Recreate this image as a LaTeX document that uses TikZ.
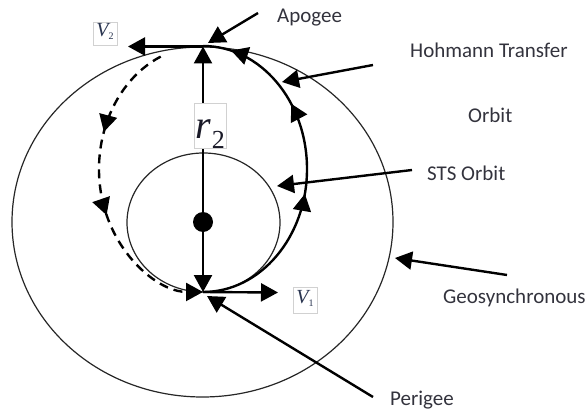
\documentclass[tikz,border=0pt]{standalone}
\usepackage{fontspec}
\usepackage{graphicx}
\setmainfont{Carlito}
\newfontfamily\tnr{Liberation Serif}
\usetikzlibrary{arrows.meta,decorations.markings}
\definecolor{txt}{HTML}{33333D}
\definecolor{lbl}{HTML}{2A3550}
\definecolor{rlbl}{HTML}{1A1A28}
\begin{document}
\begin{tikzpicture}[x=1pt,y=-1pt,
  orbitline/.style={line width=1.2pt, draw=black!85},
  ptr/.style={line width=2.4pt, -{Triangle[length=17pt,width=18pt]}},
  lab/.style={font=\fontsize{21}{21}\selectfont, text=txt, inner sep=0pt, anchor=base west},
  vbox/.style={draw=black!18, line width=0.6pt, fill=white, inner sep=0pt, text=lbl, anchor=base}]
\useasboundingbox (0,0) rectangle (588,409);
% orbits
\draw[orbitline] (202.5,222) ellipse [x radius=190.5, y radius=175];
\draw[orbitline] (203.5,222.5) ellipse [x radius=76.5, y radius=69.5];
\coordinate (C) at (203,222);
\coordinate (apo) at (203,46.5);
\coordinate (peri) at (203,292);
\coordinate (v2end) at (128,46.5);
\coordinate (v1end) at (278,292.5);
\coordinate (dashS) at (160.7,56.6);
% transfer orbit
\draw[line width=2.4pt, postaction={decorate}, decoration={markings,
    mark=at position 0.43 with {\arrow{Triangle[length=17pt,width=18pt]}},
    mark=at position 0.69 with {\arrow{Triangle[length=17pt,width=18pt]}},
    mark=at position 0.92 with {\arrow{Triangle[length=17pt,width=18pt]}}}]
  (peri) arc[start angle=90, end angle=-90, x radius=104, y radius=123];
% dashed return half
\draw[line width=2.4pt, dash pattern=on 9pt off 6pt, -{Triangle[length=17pt,width=18pt]},
  postaction={decorate}, decoration={markings,
    mark=at position 0.31 with {\arrow{Triangle[length=17pt,width=18pt]}},
    mark=at position 0.58 with {\arrow{Triangle[length=17pt,width=18pt]}}}]
  (dashS) arc[start angle=246, end angle=90, x radius=104, y radius=123];
% radius and velocities
\draw[ptr] (C) -- (apo);
\draw[ptr] (C) -- (peri);
\fill (C) circle[radius=10pt];
\draw[ptr] (apo) -- (v2end);
\draw[ptr] (peri) -- (v1end);
% boxed labels
\node[vbox, text=rlbl, minimum width=32pt, text height=35pt, text depth=10pt] (r2) at (210,138)
  {\tnr\fontsize{40}{40}\selectfont\itshape r\kern1pt\raisebox{-10pt}{\fontsize{26}{26}\selectfont\upshape 2}};
\node[vbox, minimum width=24pt, text height=15pt, text depth=8pt] (V2) at (105,37)
  {\tnr\fontsize{20}{20}\selectfont\itshape V\raisebox{-3pt}{\fontsize{10}{10}\selectfont\upshape 2}};
\node[vbox, minimum width=24pt, text height=16pt, text depth=10pt] (V1) at (305,303)
  {\tnr\fontsize{20}{20}\selectfont\itshape V\raisebox{-3pt}{\fontsize{10}{10}\selectfont\upshape 1}};
% text labels
\node[lab] (tApo) at (277,23) {Apogee};
\node[lab] (tHoh) at (410,58) {Hohmann Transfer};
\node[lab] (tOrb) at (468,122) {Orbit};
\node[lab] (tSTS) at (427,180) {STS Orbit};
\node[lab] (tGeo) at (443,303) {Geosynchronous};
\node[lab] (tPer) at (390,405) {Perigee};
% pointers
\coordinate (pApoS) at (258,13);   \coordinate (pApoE) at (208,43);
\coordinate (pHohS) at (373,65);   \coordinate (pHohE) at (282,82);
\coordinate (pSTSS) at (412,170);  \coordinate (pSTSE) at (277,186);
\coordinate (pGeoS) at (507,275);  \coordinate (pGeoE) at (395,258);
\coordinate (pPerS) at (373,397);  \coordinate (pPerE) at (207,296);
\draw[ptr] (pApoS) -- (pApoE);
\draw[ptr] (pHohS) -- (pHohE);
\draw[ptr] (pSTSS) -- (pSTSE);
\draw[ptr] (pGeoS) -- (pGeoE);
\draw[ptr] (pPerS) -- (pPerE);
\end{tikzpicture}
\end{document}
